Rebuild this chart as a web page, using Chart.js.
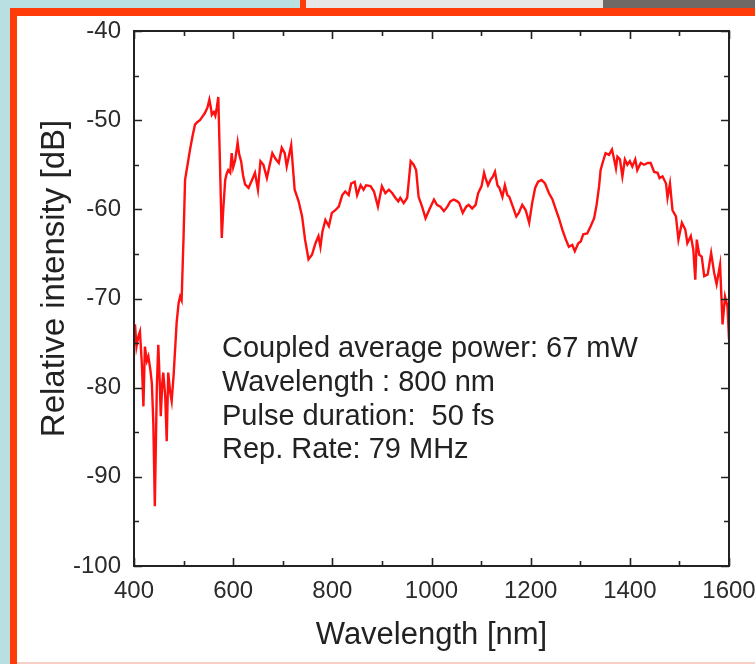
<!DOCTYPE html>
<html>
<head>
<meta charset="utf-8">
<script src="https://cdn.jsdelivr.net/npm/chart.js@4.4.0/dist/chart.umd.min.js"></script>
<style>
  html, body { margin: 0; padding: 0; }
  body { width: 755px; height: 664px; overflow: hidden; position: relative; background: #b9dfe2; }
  .bar { position: absolute; }
  #topGray { left: 306px; top: 0; width: 297px; height: 8px; background: #e6e6e6; }
  #topDark { left: 603px; top: 0; width: 152px; height: 8px; background: #6e6965; }
  #topCut { left: 300px; top: 0; width: 6px; height: 8px; background: #ff3b0a; }
  #frame { left: 10px; top: 8px; width: 745px; height: 656px; background: #fff;
           border-left: 7px solid #ff3b0a; border-top: 8px solid #ff3b0a; box-sizing: border-box; }
  #frameBottom { left: 17px; top: 662px; width: 738px; height: 2px; background: #f8cfc6; }
  #myChart { position: absolute; left: 0; top: 0; }
</style>
</head>
<body>
<div class="bar" id="topGray"></div>
<div class="bar" id="topDark"></div>
<div class="bar" id="topCut"></div>
<div class="bar" id="frame"></div>
<div class="bar" id="frameBottom"></div>
<canvas id="myChart" width="755" height="664"></canvas>
<script>
// Spectrum: wavelength in nm, relative intensity in dB
var wavelength = [
  402, 405, 409, 412, 416, 419, 422, 426, 429, 433, 436, 439, 442, 446, 449, 452, 454, 457, 459, 463,
  466, 469, 473, 476, 480, 486, 490, 493, 496, 500, 503, 508, 513, 518, 523, 528, 533, 538, 543, 548,
  552, 555, 557, 561, 564, 567, 570, 573, 577, 580, 584, 587, 590, 594, 597, 600, 604, 609, 612, 616,
  620, 624, 631, 638, 644, 650, 655, 661, 668, 673, 679, 685, 692, 698, 704, 708, 717, 724, 732, 739,
  745, 752, 759, 766, 772, 776, 780, 786, 793, 799, 806, 813, 820, 826, 833, 838, 845, 850, 857, 863,
  868, 877, 884, 892, 900, 907, 914, 921, 927, 933, 937, 944, 951, 958, 964, 969, 974, 981, 988, 995,
  1005, 1011, 1018, 1025, 1032, 1038, 1045, 1052, 1056, 1063, 1070, 1075, 1082, 1089, 1094, 1101, 1106, 1109, 1114, 1119,
  1124, 1128, 1133, 1137, 1143, 1148, 1153, 1157, 1164, 1171, 1176, 1183, 1190, 1197, 1203, 1209, 1215, 1222, 1229, 1237,
  1244, 1250, 1257, 1264, 1271, 1277, 1284, 1289, 1296, 1301, 1306, 1314, 1321, 1328, 1333, 1338, 1341, 1345, 1351, 1358,
  1364, 1368, 1372, 1375, 1380, 1385, 1390, 1395, 1400, 1405, 1411, 1415, 1422, 1429, 1436, 1442, 1449, 1456, 1460, 1466,
  1473, 1476, 1481, 1486, 1493, 1498, 1505, 1512, 1516, 1523, 1528, 1532, 1535, 1540, 1545, 1550, 1557, 1564, 1570, 1575,
  1582, 1587, 1592, 1597, 1600
];
var intensity = [
  -72.9, -75.4, -74.2, -73.7, -77.5, -82.1, -75.4, -77.0, -76.5, -78.0, -79.5, -84.0, -93.3, -80.0, -75.2, -79.5, -83.2, -79.5, -78.3, -81.0,
  -86.0, -78.3, -80.5, -81.5, -78.5, -72.7, -70.5, -69.8, -70.2, -63.0, -56.7, -55.0, -53.3, -51.8, -50.5, -50.2, -50.0, -49.6, -49.2, -48.6,
  -47.7, -48.6, -49.4, -49.1, -49.5, -48.6, -47.4, -54.0, -63.2, -60.0, -56.7, -56.0, -55.6, -55.9, -53.7, -55.3, -54.5, -52.5, -53.8, -54.6,
  -56.2, -57.2, -57.6, -56.7, -55.9, -57.8, -54.6, -55.0, -56.5, -55.2, -53.7, -54.3, -54.8, -53.1, -53.7, -55.2, -52.8, -57.8, -59.1, -60.8,
  -63.4, -65.6, -65.1, -63.8, -63.0, -64.2, -62.5, -61.2, -61.9, -60.4, -60.1, -59.7, -58.4, -58.0, -58.4, -57.1, -56.9, -58.4, -57.3, -57.8,
  -57.3, -57.4, -58.0, -59.7, -57.4, -58.2, -57.8, -58.2, -58.7, -59.1, -58.7, -59.3, -58.7, -54.6, -55.0, -55.6, -58.6, -59.7, -61.0, -60.1,
  -58.9, -59.5, -59.7, -60.2, -59.7, -59.1, -58.9, -59.1, -59.3, -60.4, -59.7, -59.5, -59.9, -59.5, -58.2, -57.4, -55.9, -56.5, -57.3, -56.7,
  -56.3, -55.8, -57.3, -57.6, -58.6, -57.3, -58.4, -58.6, -59.7, -60.8, -60.4, -59.5, -60.1, -61.5, -59.3, -57.6, -56.9, -56.7, -57.1, -58.2,
  -58.9, -59.9, -61.0, -62.3, -63.4, -64.2, -64.0, -64.7, -63.8, -63.6, -62.8, -62.7, -61.9, -61.0, -59.5, -57.4, -55.6, -54.8, -53.7, -53.9,
  -53.3, -54.3, -55.4, -54.1, -54.4, -56.3, -54.4, -55.0, -54.6, -55.2, -54.4, -55.6, -54.8, -55.0, -54.8, -54.8, -55.8, -55.9, -56.5, -56.3,
  -57.1, -58.7, -57.1, -60.1, -60.8, -63.4, -61.5, -62.3, -63.8, -63.0, -64.5, -67.9, -63.4, -65.1, -65.3, -67.5, -67.3, -64.9, -67.1, -68.4,
  -66.2, -72.9, -69.8, -70.9, -74.6
];
var xTickValues = [400, 600, 800, 1000, 1200, 1400, 1600];
var yTickValues = [-100, -90, -80, -70, -60, -50, -40];
var yTitle = "Relative intensity [dB]";
var notes = [
  "Coupled average power: 67 mW",
  "Wavelength : 800 nm",
  "Pulse duration:  50 fs",
  "Rep. Rate: 79 MHz"
];

var FONT = '"Liberation Sans", Arial, Helvetica, sans-serif';
var INK = "#222222";

var points = wavelength.map(function (w, i) {
  return { x: w, y: intensity[i] };
});

// closed frame with inward ticks on all four sides, the y title and the text block
var framePlugin = {
  id: "frameBox",
  afterDraw: function (chart) {
    var ctx = chart.ctx;
    var a = chart.chartArea;
    var xs = chart.scales.x;
    var ys = chart.scales.y;
    ctx.save();
    ctx.strokeStyle = INK;
    ctx.lineWidth = 2;
    ctx.strokeRect(a.left, a.top, a.right - a.left, a.bottom - a.top);

    ctx.lineWidth = 1.6;
    ctx.beginPath();
    for (var v = 400; v <= 1600; v += 100) {
      var px = Math.round(xs.getPixelForValue(v)) + 0.5;
      var len = v % 200 === 0 ? 8 : 5;
      ctx.moveTo(px, a.bottom); ctx.lineTo(px, a.bottom - len);
      ctx.moveTo(px, a.top); ctx.lineTo(px, a.top + len);
    }
    for (var d = -100; d <= -40; d += 5) {
      var py = Math.round(ys.getPixelForValue(d)) + 0.5;
      var l2 = d % 10 === 0 ? 8 : 5;
      ctx.moveTo(a.left, py); ctx.lineTo(a.left + l2, py);
      ctx.moveTo(a.right, py); ctx.lineTo(a.right - l2, py);
    }
    ctx.stroke();

    ctx.fillStyle = INK;
    // y title sits a little above the middle of the axis
    ctx.save();
    ctx.translate(55, (a.top + a.bottom) / 2 - 20);
    ctx.rotate(-Math.PI / 2);
    ctx.font = "33px " + FONT;
    ctx.textAlign = "center";
    ctx.textBaseline = "middle";
    ctx.fillText(yTitle, 0, 0);
    ctx.restore();

    ctx.font = "29px " + FONT;
    ctx.textAlign = "left";
    ctx.textBaseline = "alphabetic";
    notes.forEach(function (t, i) {
      ctx.fillText(t, a.left + 88, a.top + 326 + i * 33.8);
    });
    ctx.restore();
  }
};

var ctx = document.getElementById("myChart").getContext("2d");
var myChart = new Chart(ctx, {
  type: "line",
  data: {
    datasets: [
      {
        data: points,
        borderColor: "#ff1010",
        borderWidth: 2.4,
        pointRadius: 0,
        tension: 0,
        fill: false,
      },
    ],
  },
  options: {
    responsive: false,
    animation: false,
    layout: {
      padding: { top: 31, right: 26, bottom: 0, left: 0 },
    },
    plugins: {
      legend: { display: false },
      tooltip: { enabled: false },
    },
    scales: {
      x: {
        type: "linear",
        min: 400,
        max: 1600,
        afterBuildTicks: function (scale) {
          scale.ticks = xTickValues.map(function (v) { return { value: v }; });
        },
        afterFit: function (scale) {
          scale.height = 98;
          scale.paddingLeft = 0;
          scale.paddingRight = 0;
        },
        grid: { display: false, drawTicks: false },
        border: { display: false },
        ticks: {
          padding: 11,
          color: "#2b2b2b",
          font: { family: FONT, size: 24 },
          maxRotation: 0,
          autoSkip: false,
          callback: function (v) { return String(v); },
        },
        title: {
          display: true,
          text: "Wavelength [nm]",
          color: INK,
          font: { family: FONT, size: 31 },
          padding: { top: 0, bottom: 10 },
        },
      },
      y: {
        min: -100,
        max: -40,
        afterBuildTicks: function (scale) {
          scale.ticks = yTickValues.map(function (v) { return { value: v }; });
        },
        afterFit: function (scale) {
          scale.width = 134;
          scale.paddingTop = 0;
          scale.paddingBottom = 0;
        },
        grid: { display: false, drawTicks: false },
        border: { display: false },
        ticks: {
          padding: 13,
          color: "#2b2b2b",
          font: { family: FONT, size: 24 },
          autoSkip: false,
          callback: function (v) { return String(v); },
        },
      },
    },
  },
  plugins: [framePlugin],
});
</script>
</body>
</html>
